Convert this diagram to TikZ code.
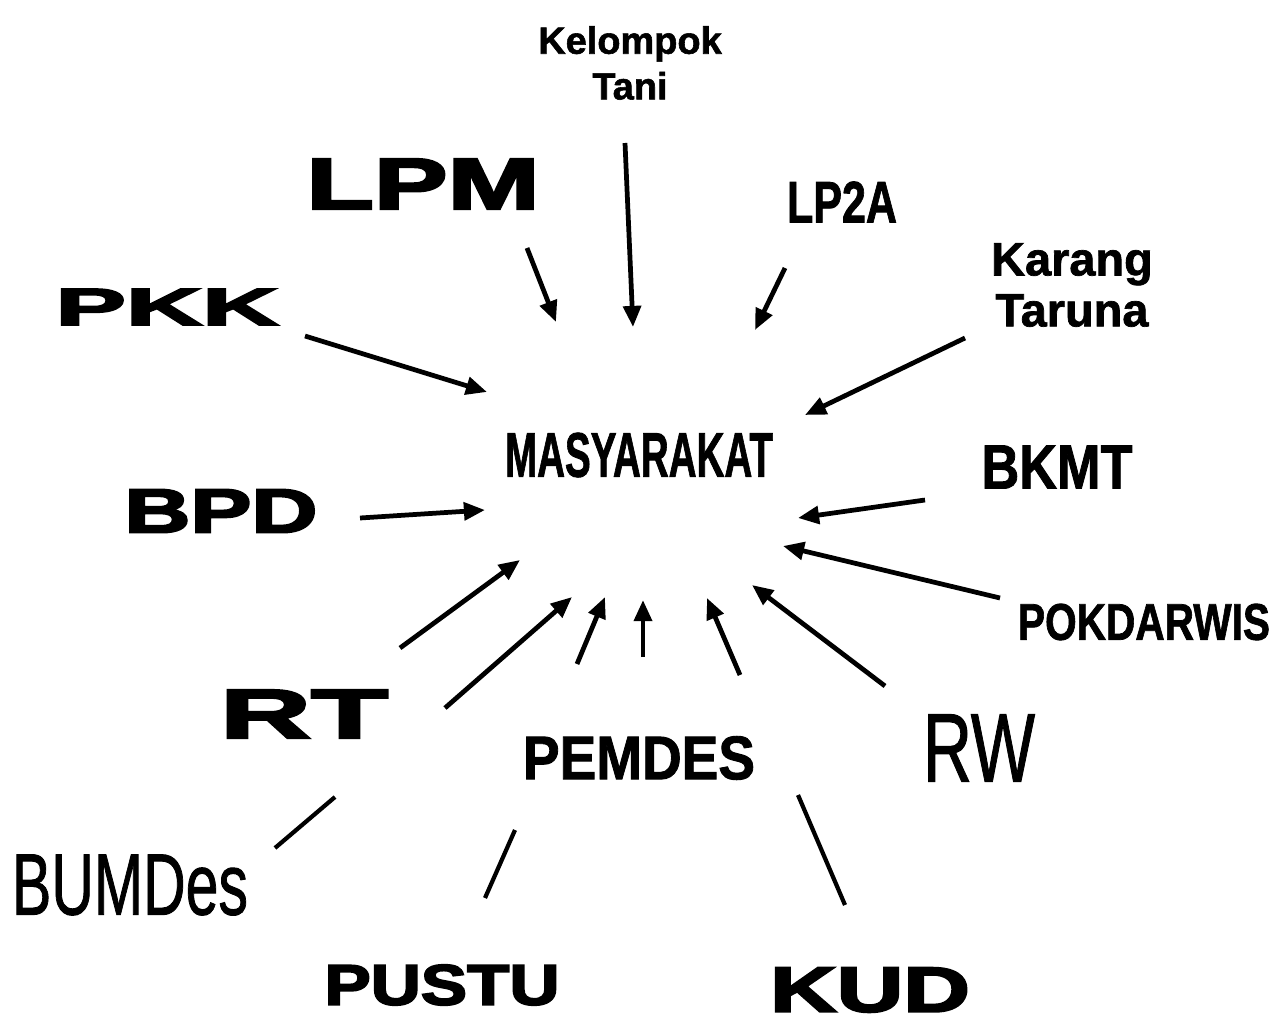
\documentclass[tikz,border=0pt]{standalone}
\usepackage{fontspec}
\setmainfont{Liberation Sans}
\newfontfamily\heavyfont[BoldFeatures={FakeBold=3}]{Liberation Sans}
\newfontfamily\semifont[BoldFeatures={FakeBold=1.5}]{Liberation Sans}
\newfontfamily\midfont[FakeBold=1.2]{Liberation Sans}
\usepackage{graphicx}
\usetikzlibrary{arrows.meta}
\newdimen\pxu \pxu=0.02cm
\newcommand{\fitbox}[3]{\resizebox{#1\pxu}{#2\pxu}{\bfseries #3}}
\tikzset{
  lbl/.style={inner sep=0pt, font=\bfseries},
  arr/.style={line width=2.7pt, -{Triangle[length=12pt,width=10pt]}},
  ln/.style={line width=2.4pt}
}
\begin{document}
\begin{tikzpicture}[x=0.02cm, y=-0.02cm]
        \useasboundingbox (0,0) rectangle (1278,1024);
        % labels
        \node[lbl] (mas) at (639,455) {\fitbox{268}{44}{\semifont MASYARAKAT}};
        \node[lbl, align=center, font=\semifont\bfseries\fontsize{21.6}{26}\selectfont] (tani) at (630,63) {Kelompok\\Tani};
        \node[lbl] (lpm) at (423,184) {\fitbox{233}{50}{\heavyfont LPM}};
        \node[lbl] (lp2a) at (842,202) {\fitbox{110}{41}{\semifont LP2A}};
        \node[lbl, align=center, font=\semifont\bfseries\fontsize{26.7}{29}\selectfont] (karang) at (1072,285) {Karang\\Taruna};
        \node[lbl] (pkk) at (167,307) {\fitbox{223}{36}{\heavyfont PKK}};
        \node[lbl] (bkmt) at (1057,467) {\fitbox{151}{43}{\semifont BKMT}};
        \node[lbl] (bpd) at (221,511) {\fitbox{193}{43}{\heavyfont BPD}};
        \node[lbl] (pokdarwis) at (1144,622) {\fitbox{252}{36}{\semifont POKDARWIS}};
        \node[lbl] (rt) at (304,714) {\fitbox{168}{48}{\heavyfont RT}};
        \node[lbl] (rw) at (979,748) {\fitbox{112}{67}{\midfont\mdseries RW}};
        \node[lbl] (pemdes) at (639,758) {\fitbox{232}{43}{\semifont PEMDES}};
        \node[lbl] (bumdes) at (130,885) {\fitbox{236}{60}{\midfont\mdseries BUMDes}};
        \node[lbl] (pustu) at (442,985) {\fitbox{235}{40}{\heavyfont PUSTU}};
        \node[lbl] (kud) at (870,990) {\fitbox{200}{44}{\heavyfont KUD}};
        % arrow ends
        \coordinate (lpm-s) at (527,248);
        \coordinate (lpm-e) at (556,322);
        \coordinate (tani-s) at (625,143);
        \coordinate (tani-e) at (633,327);
        \coordinate (lp2a-s) at (785,268);
        \coordinate (lp2a-e) at (755,330);
        \coordinate (karang-s) at (965,338);
        \coordinate (karang-e) at (805,415);
        \coordinate (pkk-s) at (305,336);
        \coordinate (pkk-e) at (487,392);
        \coordinate (bkmt-s) at (925,500);
        \coordinate (bkmt-e) at (798,518);
        \coordinate (bpd-s) at (360,518);
        \coordinate (bpd-e) at (485,510);
        \coordinate (pok-s) at (1000,598);
        \coordinate (pok-e) at (783,546);
        \coordinate (rw-s) at (885,686);
        \coordinate (rw-e) at (752,585);
        \coordinate (rt1-s) at (400,648);
        \coordinate (rt1-e) at (520,560);
        \coordinate (rt2-s) at (445,708);
        \coordinate (rt2-e) at (572,597);
        \coordinate (pem1-s) at (577,664);
        \coordinate (pem1-e) at (605,597);
        \coordinate (pem2-s) at (643,657);
        \coordinate (pem2-e) at (643,600);
        \coordinate (pem3-s) at (740,675);
        \coordinate (pem3-e) at (707,598);
        \coordinate (bum-s) at (275,848);
        \coordinate (bum-e) at (335,797);
        \coordinate (pus-s) at (485,898);
        \coordinate (pus-e) at (515,830);
        \coordinate (kud-s) at (845,905);
        \coordinate (kud-e) at (798,795);
        % arrows to masyarakat
        \draw[arr] (lpm-s) -- (lpm-e);
        \draw[arr] (tani-s) -- (tani-e);
        \draw[arr] (lp2a-s) -- (lp2a-e);
        \draw[arr] (karang-s) -- (karang-e);
        \draw[arr] (pkk-s) -- (pkk-e);
        \draw[arr] (bkmt-s) -- (bkmt-e);
        \draw[arr] (bpd-s) -- (bpd-e);
        \draw[arr] (pok-s) -- (pok-e);
        \draw[arr] (rw-s) -- (rw-e);
        \draw[arr] (rt1-s) -- (rt1-e);
        \draw[arr] (rt2-s) -- (rt2-e);
        \draw[arr] (pem1-s) -- (pem1-e);
        \draw[arr] (pem2-s) -- (pem2-e);
        \draw[arr] (pem3-s) -- (pem3-e);
        % plain lines
        \draw[ln] (bum-s) -- (bum-e);
        \draw[ln] (pus-s) -- (pus-e);
        \draw[ln] (kud-s) -- (kud-e);
      \end{tikzpicture}
\end{document}
